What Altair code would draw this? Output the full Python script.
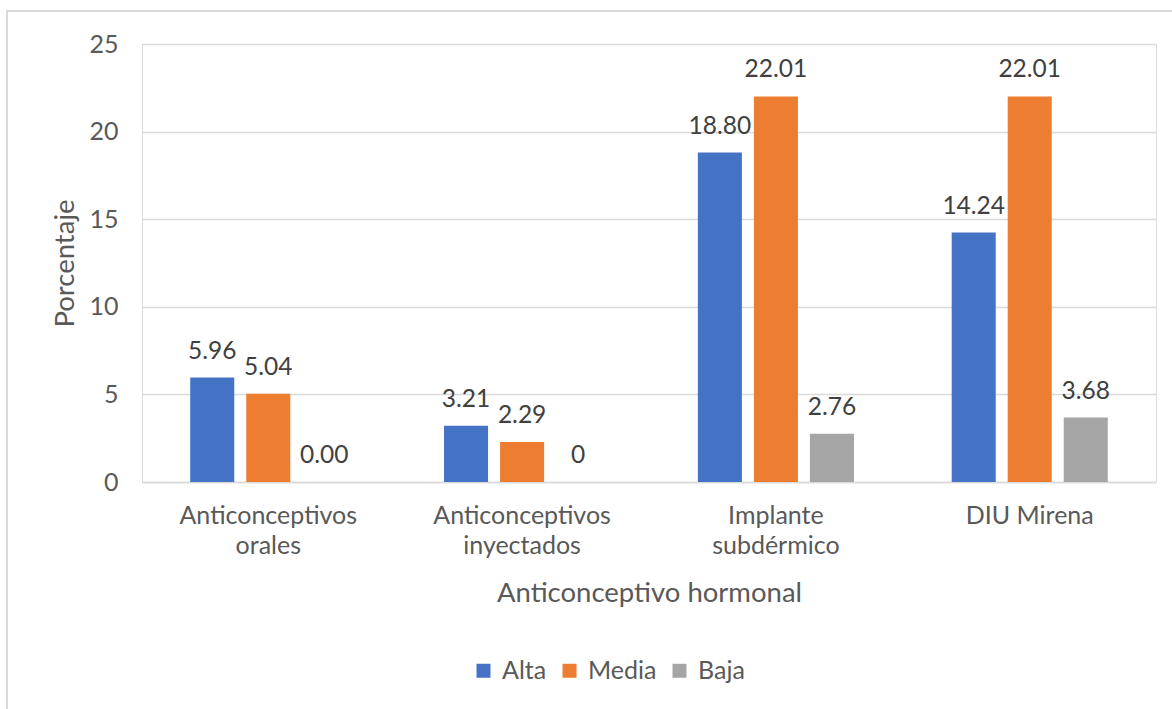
import altair as alt
import pandas as pd

categories = ["Anticonceptivos orales", "Anticonceptivos inyectados", "Implante subdérmico", "DIU Mirena"]
series = ["Alta", "Media", "Baja"]
alta = [5.96, 3.21, 18.80, 14.24]
media = [5.04, 2.29, 22.01, 22.01]
baja = [0.00, 0.00, 2.76, 3.68]
alta_labels = ["5.96", "3.21", "18.80", "14.24"]
media_labels = ["5.04", "2.29", "22.01", "22.01"]
baja_labels = ["0.00", "0", "2.76", "3.68"]
colors = ["#4472C4", "#ED7D31", "#A5A5A5"]
y_ticks = [0, 5, 10, 15, 20, 25]

rows = []
for s, vals, labs in zip(series, [alta, media, baja], [alta_labels, media_labels, baja_labels]):
    for c, v, l in zip(categories, vals, labs):
        rows.append({"cat": c, "serie": s, "val": v, "lab": l})
df = pd.DataFrame(rows)

W, H = 1014, 438
FONT = "Lato"
TXT = "#595959"
LBL = 25
TTL = 27.5

x = alt.X(
    "cat:N", sort=categories,
    scale=alt.Scale(paddingInner=0.385, paddingOuter=0.19),
    axis=alt.Axis(
        title="Anticonceptivo hormonal", labelAngle=0,
        labelExpr="datum.label == 'DIU Mirena' ? datum.label : split(datum.label, ' ')",
        labelLineHeight=30, labelPadding=21, labelBaseline="top",
        ticks=False, domainColor="#D9D9D9", domainWidth=1.5,
        labelFont=FONT, labelFontSize=LBL, labelColor=TXT,
        titleFont=FONT, titleFontSize=TTL, titleFontWeight="normal", titleColor=TXT,
        titleY=111, titleBaseline="middle",
    ),
)
xo = alt.XOffset("serie:N", sort=series, scale=alt.Scale(paddingInner=0.214, paddingOuter=0))
y = alt.Y(
    "val:Q", scale=alt.Scale(domain=[0, 25]),
    axis=alt.Axis(
        values=y_ticks, title="Porcentaje", domain=False, ticks=False,
        grid=True, gridColor="#D9D9D9", gridWidth=1.5,
        labelPadding=24, labelFont=FONT, labelFontSize=LBL, labelColor=TXT,
        titleFont=FONT, titleFontSize=TTL, titleFontWeight="normal", titleColor=TXT,
        titleX=-77, titleY=219, titleBaseline="middle", titleAlign="center",
    ),
)
color = alt.Color(
    "serie:N", sort=series,
    scale=alt.Scale(domain=series, range=colors),
    legend=alt.Legend(
        title=None, orient="none", legendX=329, legendY=614, direction="horizontal",
        symbolType="square", symbolSize=196, symbolStrokeWidth=0,
        labelFont=FONT, labelFontSize=LBL, labelColor=TXT, labelOffset=6,
        columnPadding=10,
    ),
)

base = alt.Chart(df)
bars = base.mark_bar().encode(x=x, xOffset=xo, y=y, color=color)
text = base.mark_text(dy=-19, baseline="alphabetic", fontSize=24.5, font=FONT, color="#404040").encode(
    x=x, xOffset=xo, y=y, text="lab:N"
)

frame = alt.Chart(pd.DataFrame({"a": [0]})).mark_rect(
    fill=None, stroke="#D9D9D9", strokeWidth=2, clip=False
).encode(
    x=alt.value(-135), x2=alt.value(1100), y=alt.value(-33), y2=alt.value(700)
)

chart = alt.layer(frame, bars, text).properties(
    width=W, height=H,
    autosize=alt.AutoSizeParams(type="none"),
    padding={"left": 142, "top": 44, "right": 16, "bottom": 227},
).configure_view(stroke=None).configure(background="white")

chart.save("out.html", embed_options={"renderer": "svg", "actions": False})
